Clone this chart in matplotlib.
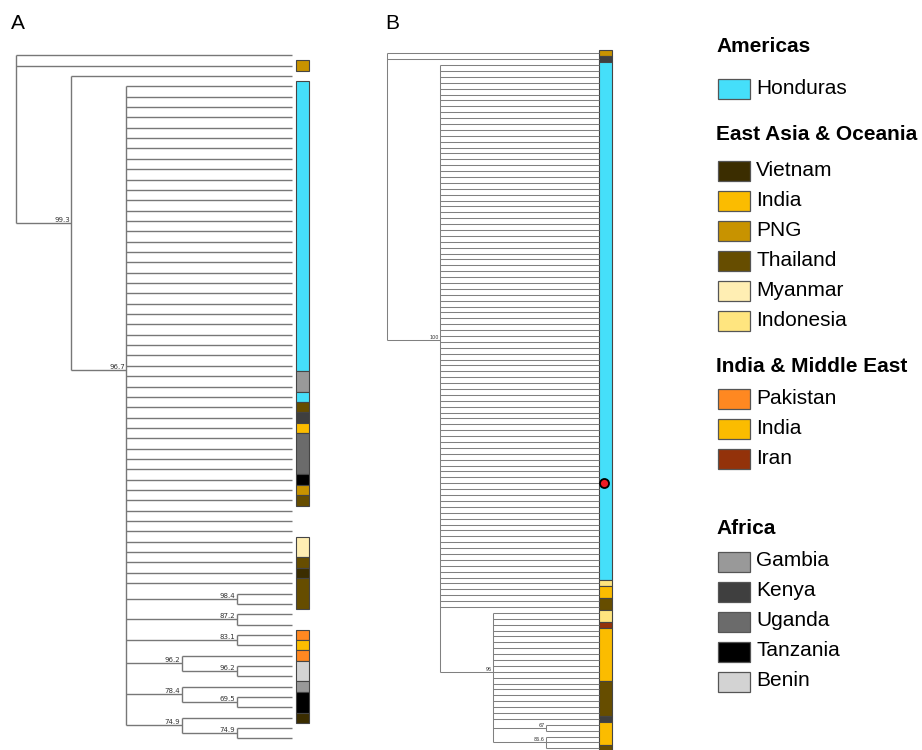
import matplotlib
matplotlib.use("Agg")
import matplotlib.pyplot as plt
from matplotlib.patches import Rectangle
from matplotlib.collections import LineCollection

W, H, DPI = 922, 750, 100

country_colors = {
    "Honduras": "#45DFFA",
    "Vietnam": "#3B2D00",
    "India": "#FBBC00",
    "PNG": "#C89300",
    "Thailand": "#664D00",
    "Myanmar": "#FFEEB3",
    "Indonesia": "#FFE57F",
    "Pakistan": "#FF8821",
    "Iran": "#93320A",
    "Gambia": "#999999",
    "Kenya": "#3F3F3F",
    "Uganda": "#6B6B6B",
    "Tanzania": "#000000",
    "Benin": "#D3D3D3",
}

legend_groups = [
    ("Americas", ["Honduras"]),
    ("East Asia & Oceania", ["Vietnam", "India", "PNG", "Thailand", "Myanmar", "Indonesia"]),
    ("India & Middle East", ["Pakistan", "India", "Iran"]),
    ("Africa", ["Gambia", "Kenya", "Uganda", "Tanzania", "Benin"]),
]

# node = (support, children); an int child means that many tips in a row
tree_a = ("", [2, ("99.3", [1, ("96.7", [49,
                                        ("98.4", [2]),
                                        ("87.2", [2]),
                                        ("83.1", [2]),
                                        ("96.2", [1, ("96.2", [2])]),
                                        ("78.4", [1, ("69.5", [2])]),
                                        ("74.9", [1, ("74.9", [2])])])])])
tree_b = ("", [2, ("100", [93, ("96", [19, ("67", [2]), ("86.6", [3])])])])

# tip countries, top to bottom, as (country, run length); "" = no sample origin
tips_a = [("", 1), ("PNG", 1), ("", 1), ("Honduras", 28), ("Gambia", 2),
          ("Honduras", 1), ("Thailand", 1), ("Kenya", 1), ("India", 1),
          ("Uganda", 4), ("Tanzania", 1), ("PNG", 1), ("Thailand", 1), ("", 3),
          ("Myanmar", 2), ("Thailand", 1), ("Vietnam", 1), ("Thailand", 3),
          ("", 2), ("Pakistan", 1), ("India", 1), ("Pakistan", 1), ("Benin", 2),
          ("Gambia", 1), ("Tanzania", 2), ("Vietnam", 1), ("", 2)]
tips_b = [("PNG", 1), ("Kenya", 1), ("Honduras", 88), ("Indonesia", 1),
          ("India", 2), ("Thailand", 2), ("Indonesia", 2), ("Iran", 1),
          ("India", 9), ("Thailand", 6), ("Kenya", 1), ("India", 4),
          ("Thailand", 1)]
marked_tip_b = 73


def build(node, counter):
    support, kids = node
    out = []
    for k in kids:
        if isinstance(k, int):
            for _ in range(k):
                out.append({"y": counter[0], "h": 0, "kids": [], "s": ""})
                counter[0] += 1
        else:
            out.append(build(k, counter))
    ys = [c["y"] for c in out]
    return {"y": sum(ys) / len(ys), "h": 1 + max(c["h"] for c in out),
            "kids": out, "s": support}


def draw_tree(ax, tree, color, lw, fs):
    root = build(tree, [0])
    top = root["h"]
    segs = []

    def walk(n):
        x = top - n["h"]
        if not n["kids"]:
            return
        ys = [c["y"] for c in n["kids"]]
        segs.append([(x, min(ys)), (x, max(ys))])
        for c in n["kids"]:
            segs.append([(x, c["y"]), (top - c["h"], c["y"])])
            walk(c)
        if n["s"]:
            ax.annotate(n["s"], (x, n["y"]), xytext=(-1, 0), textcoords="offset points",
                        ha="right", va="bottom", fontsize=fs, color="#333333")

    walk(root)
    ax.add_collection(LineCollection(segs, colors=color, linewidths=lw, capstyle="butt"))
    return top


def draw_tips(ax, runs, x0, width):
    i = 0
    for country, n in runs:
        if country:
            ax.add_patch(Rectangle((x0, i - 0.5), width, n,
                                   facecolor=country_colors[country],
                                   edgecolor="#454545", linewidth=0.8))
        i += n


def tree_axes(px_left, px_right, x0_px, step_x, y0_px, step_y):
    ax = fig.add_axes([px_left / W, 0, (px_right - px_left) / W, 1])
    ax.set_xlim((px_left - x0_px) / step_x, (px_right - x0_px) / step_x)
    ax.set_ylim((H - y0_px) / step_y, -y0_px / step_y)
    ax.axis("off")
    return ax


fig = plt.figure(figsize=(W / DPI, H / DPI), dpi=DPI)

# panel A
sx_a = 55.2
ax_a = tree_axes(0, 330, 16, sx_a, 55.3, 10.35)
depth_a = draw_tree(ax_a, tree_a, "#777777", 1.0, 5)
draw_tips(ax_a, tips_a, depth_a + 4 / sx_a, 13 / sx_a)

# panel B
sx_b = 53.0
ax_b = tree_axes(370, 640, 387, sx_b, 53.3, 5.89)
depth_b = draw_tree(ax_b, tree_b, "#808080", 0.75, 3.5)
draw_tips(ax_b, tips_b, depth_b, 13 / sx_b)
ax_b.plot(depth_b + 5 / sx_b, marked_tip_b, "o", ms=6.5, color="#EE1C24",
          markeredgecolor="black", markeredgewidth=1.3)

# panel letters and legend on a pixel-space overlay
ov = fig.add_axes([0, 0, 1, 1])
ov.set_xlim(0, W)
ov.set_ylim(H, 0)
ov.axis("off")
ov.patch.set_alpha(0)

font = "Liberation Sans"
ov.text(11, 29, "A", fontsize=15, family=font, va="baseline")
ov.text(385, 29, "B", fontsize=15, family=font, va="baseline")

header_y = [47, 134, 366, 528]
first_gap = [42, 37, 33, 34]
for (title, members), hy, gap in zip(legend_groups, header_y, first_gap):
    ov.text(716, hy, title, fontsize=15, family=font, weight="bold", va="center")
    for k, name in enumerate(members):
        y = hy + gap + k * 30
        ov.add_patch(Rectangle((718, y - 10), 32, 20, facecolor=country_colors[name],
                               edgecolor="#555555", linewidth=0.9))
        ov.text(756, y - 1, name, fontsize=15, family=font, va="center")

fig.savefig("out.png", dpi=DPI)
